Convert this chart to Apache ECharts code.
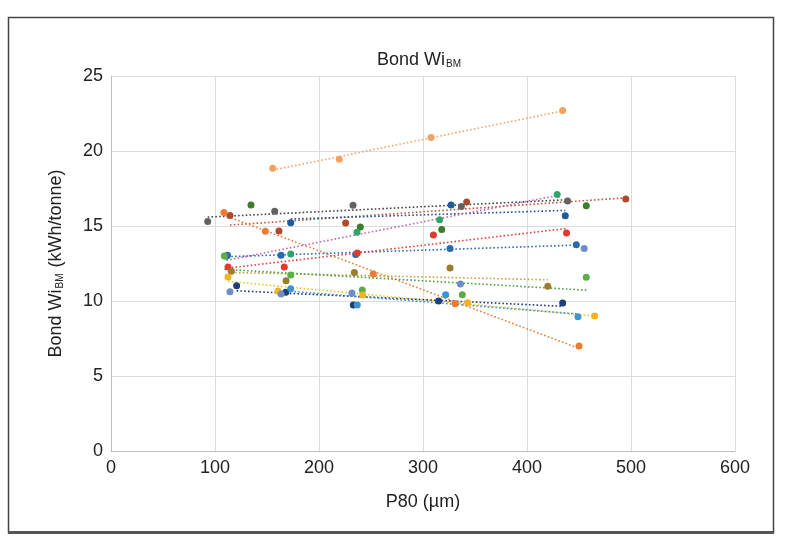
<!DOCTYPE html>
<html lang="en">
<head>
    <meta charset="UTF-8">
    <title>Bond Wi BM vs P80</title>
    <script src="https://cdn.jsdelivr.net/npm/echarts@6/dist/echarts.min.js"></script>
    <style>
        html, body { margin: 0; padding: 0; background: #fff; }
        #main { width: 797px; height: 546px; }
    </style>
</head>
<body>
<div id="main"></div>
<script>
    // [P80 (um), Bond Wi (kWh/t)], one array per sample
    const s01 = [[155.5, 18.85], [219.5, 19.45], [307.7, 20.9], [434.3, 22.7]];
    const s02 = [[93, 15.3], [157.4, 15.98], [232.7, 16.38], [336.9, 16.3], [439, 16.67]];
    const s03 = [[114.4, 15.7], [161.5, 14.67], [225.6, 15.2], [342, 16.6], [495, 16.8]];
    const s04 = [[108.6, 15.9], [148.4, 14.65], [252.2, 11.8], [331, 9.82], [450, 7.0]];
    const s05 = [[134.6, 16.4], [239.7, 14.93], [318, 14.76], [457, 16.35]];
    const s06 = [[172.8, 15.22], [327, 16.4], [436.8, 15.69]];
    const s07 = [[111, 12.98], [172.8, 13.13], [236.5, 14.58], [316, 15.42], [429, 17.1]];
    const s08 = [[112, 13.05], [163.5, 13.05], [235.3, 13.1], [326, 13.5], [447.4, 13.75]];
    const s09 = [[112.5, 12.27], [166.6, 12.27], [236.8, 13.2], [310, 14.4], [438, 14.53]];
    const s10 = [[115.7, 11.98], [168.3, 11.35], [234, 11.9], [326, 12.2], [420, 10.98]];
    const s11 = [[109, 13.0], [172.8, 11.73], [241.6, 10.73], [337.8, 10.42], [457, 11.58]];
    const s12 = [[112.5, 11.6], [160.6, 10.67], [242, 10.4], [343, 9.89], [465, 9.0]];
    const s13 = [[120.8, 11.02], [168, 10.58], [233, 9.73], [315, 10.0], [434.3, 9.87]];
    const s14 = [[172.8, 10.82], [236.8, 9.73], [321.8, 10.42], [449, 8.95]];
    const s15 = [[114.4, 10.62], [163.5, 10.47], [231.7, 10.53], [336, 11.13], [455, 13.5]];

    const allSeries = [s01, s02, s03, s04, s05, s06, s07, s08, s09, s10, s11, s12, s13, s14, s15];
    // which samples got a linear trendline
    const hasTrend = [true, true, true, true, false, true, true, true, true, true, true, true, true, true, false];

    const xTicks = [0, 100, 200, 300, 400, 500, 600];
    const yTicks = [0, 5, 10, 15, 20, 25];

    // styles
    const pointColors = ['#F4A263', '#626262', '#AD4A2C', '#EC7B33', '#3E7B2C', '#1F5C9C', '#2FA56B', '#2A69AE',
        '#E43A2E', '#9A7C2F', '#5AAE45', '#F2B41E', '#1D3F78', '#3A95D5', '#6C8DC8'];
    const lineColors = ['#F4A56A', '#454545', '#C4543E', '#ED7D31', '#3E7B2C', '#24509A', '#C466B2', '#2E6CB5',
        '#E0433A', '#C4A040', '#45A342', '#F2C12E', '#1D3B70', '#3A95D5', '#6C8DC8'];

    // least squares fit, drawn from min x to max x like the spreadsheet trendline
    function trendEnds(pts) {
        let n = pts.length, sx = 0, sy = 0;
        pts.forEach(p => { sx += p[0]; sy += p[1]; });
        let mx = sx / n, my = sy / n, sxy = 0, sxx = 0;
        pts.forEach(p => { sxy += (p[0] - mx) * (p[1] - my); sxx += (p[0] - mx) * (p[0] - mx); });
        let b = sxy / sxx, a = my - b * mx;
        let xs = pts.map(p => p[0]);
        let x0 = Math.min(...xs), x1 = Math.max(...xs);
        return [[x0, a + b * x0], [x1, a + b * x1]];
    }

    let series = [];
    allSeries.forEach((pts, i) => {
        if (!hasTrend[i]) return;
        series.push({
            type: 'line',
            name: 'trend' + (i + 1),
            data: trendEnds(pts),
            symbol: 'none',
            silent: true,
            z: 2,
            lineStyle: {color: lineColors[i], width: 1.6, type: [1.6, 2.2]}
        });
    });
    allSeries.forEach((pts, i) => {
        series.push({
            type: 'scatter',
            name: 'Sample ' + (i + 1),
            data: pts,
            symbolSize: 7,
            z: 3,
            itemStyle: {color: pointColors[i], opacity: 1}
        });
    });

    const font = '"Liberation Sans", Arial, sans-serif';

    let myChart = echarts.init(document.getElementById('main'), null, {renderer: 'canvas'});
    let option = {
        animation: false,
        backgroundColor: '#fff',
        title: {
            text: '{a|Bond Wi}{b|BM}',
            left: 372,
            top: 38,
            textStyle: {
                fontWeight: 'normal',
                rich: {
                    a: {fontSize: 18, color: '#222', fontWeight: 'normal', fontFamily: font, lineHeight: 26, verticalAlign: 'bottom'},
                    b: {fontSize: 10, color: '#222', fontWeight: 'normal', fontFamily: font, lineHeight: 26, verticalAlign: 'bottom', padding: [0, 0, 0, 1]}
                }
            }
        },
        graphic: [
            {type: 'rect', shape: {x: 8.5, y: 17.5, width: 765, height: 515},
                style: {fill: 'none', stroke: '#444', lineWidth: 1.5}, silent: true},
            {type: 'line', shape: {x1: 8, y1: 532.5, x2: 774, y2: 532.5},
                style: {stroke: '#555', lineWidth: 3}, silent: true}
        ],
        grid: {left: 111, right: 62, top: 76, bottom: 95},
        xAxis: {
            type: 'value',
            min: xTicks[0],
            max: xTicks[xTicks.length - 1],
            interval: 100,
            name: 'P80 (µm)',
            nameLocation: 'middle',
            nameGap: 42,
            nameTextStyle: {fontSize: 18, color: '#222', fontFamily: font},
            axisLine: {show: true, lineStyle: {color: '#BFBFBF', width: 1}},
            axisTick: {show: false},
            axisLabel: {fontSize: 18, color: '#222', fontFamily: font, margin: 8},
            splitLine: {show: true, lineStyle: {color: '#DCDCDC', width: 1}}
        },
        yAxis: {
            type: 'value',
            min: yTicks[0],
            max: yTicks[yTicks.length - 1],
            interval: 5,
            name: '{a|Bond Wi}{b|BM}{a| (kWh/tonne)}',
            nameLocation: 'middle',
            nameRotate: 90,
            nameGap: 46,
            nameTextStyle: {
                rich: {
                    a: {fontSize: 18, color: '#222', fontFamily: font, lineHeight: 24, verticalAlign: 'bottom'},
                    b: {fontSize: 10, color: '#222', fontFamily: font, lineHeight: 24, verticalAlign: 'bottom', padding: [0, 1, 0, 1]}
                }
            },
            axisLine: {show: true, lineStyle: {color: '#BFBFBF', width: 1}},
            axisTick: {show: false},
            axisLabel: {fontSize: 18, color: '#222', fontFamily: font, margin: 8},
            splitLine: {show: true, lineStyle: {color: '#DCDCDC', width: 1}}
        },
        series: series
    };
    myChart.setOption(option);
</script>
</body>
</html>
